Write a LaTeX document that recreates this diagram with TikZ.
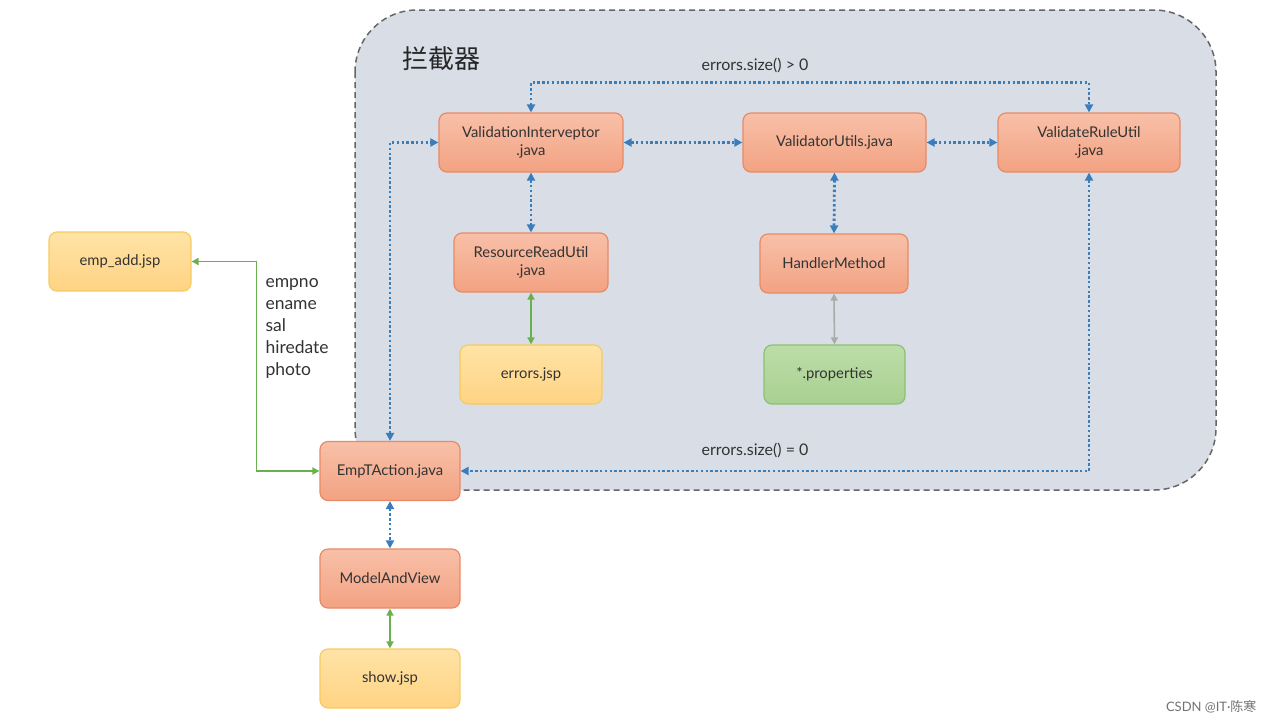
\documentclass[tikz,border=0pt]{standalone}
\usepackage{fontspec}
\setmainfont{Lato}
\newfontfamily\cjk{Noto Sans CJK SC}
\usetikzlibrary{arrows.meta,positioning,calc}
\definecolor{bgbox}{HTML}{D8DDE6}
\definecolor{orTop}{HTML}{F8C0A8}
\definecolor{orBot}{HTML}{F2A282}
\definecolor{orLine}{HTML}{E88A66}
\definecolor{yeTop}{HTML}{FFE3A6}
\definecolor{yeBot}{HTML}{FFD383}
\definecolor{yeLine}{HTML}{F6CB62}
\definecolor{grTop}{HTML}{BCDDA8}
\definecolor{grBot}{HTML}{A9D092}
\definecolor{grLine}{HTML}{8CC070}
\definecolor{blueLn}{HTML}{3A7DBD}
\definecolor{greenLn}{HTML}{6AB04C}
\definecolor{grayLn}{HTML}{AAAAAA}
\definecolor{txt}{HTML}{333333}
\tikzset{
  box/.style={rounded corners=8pt, minimum height=59pt, align=center, line width=1.2pt, font=\fontsize{14.8}{17.5}\selectfont, text=txt},
  orbox/.style={box, draw=orLine, top color=orTop, bottom color=orBot},
  yebox/.style={box, draw=yeLine, top color=yeTop, bottom color=yeBot},
  grbox/.style={box, draw=grLine, top color=grTop, bottom color=grBot},
  bdot/.style={draw=blueLn, line width=2.8pt, dash pattern=on 2.4pt off 2.4pt, {Triangle[length=8pt,width=8pt]}-{Triangle[length=8pt,width=8pt]}, fill=none},
  gln/.style={draw=greenLn, line width=1.6pt, {Triangle[length=7pt,width=7pt]}-{Triangle[length=7pt,width=7pt]}},
  glyln/.style={draw=grayLn, line width=1.6pt, {Triangle[length=7pt,width=7pt]}-{Triangle[length=7pt,width=7pt]}},
  lbl/.style={font=\fontsize{16}{19}\selectfont, text=txt}
}
\begin{document}
\begin{tikzpicture}[x=1pt,y=-1pt]
\useasboundingbox (0,0) rectangle (1273,724);
\fill[white] (0,0) rectangle (1273,724);
% container
\draw[fill=bgbox, draw=black!60, line width=1.5pt, dash pattern=on 6pt off 4pt, rounded corners=62pt] (355,10) rectangle (1216,490);
\node[anchor=center, font=\cjk\fontsize{26}{30}\selectfont, text=black!85] (title) at (441,59) {拦截器};
% nodes
\node[orbox, minimum width=184pt] (vi) at (531,142.5) {ValidationInterveptor\\.java};
\node[orbox, minimum width=183pt] (vu) at (834.5,142.5) {ValidatorUtils.java};
\node[orbox, minimum width=182pt] (vru) at (1089,142.5) {ValidateRuleUtil\\.java};
\node[orbox, minimum width=154pt] (rru) at (531,262.5) {ResourceReadUtil\\.java};
\node[orbox, minimum width=148pt] (hm) at (834,263.5) {HandlerMethod};
\node[yebox, minimum width=142pt] (err) at (531,374.5) {errors.jsp};
\node[grbox, minimum width=141pt] (prop) at (834.5,374.5) {*.properties};
\node[yebox, minimum width=142pt] (add) at (120,261.5) {emp\_add.jsp};
\node[orbox, minimum width=140pt] (emp) at (390,471) {EmpTAction.java};
\node[orbox, minimum width=140pt] (mav) at (390,578.5) {ModelAndView};
\node[yebox, minimum width=140pt] (show) at (390,678.5) {show.jsp};
% connectors
\draw[bdot] (vi.north) -- ++(0,-30) coordinate (tl) -| (vru.north);
\draw[bdot] (vi.east) -- (vu.west);
\draw[bdot] (vu.east) -- (vru.west);
\draw[bdot] (vi.south) -- (rru.north);
\draw[bdot] (vu.south) -- (hm.north);
\draw[gln] (rru.south) -- (err.north);
\draw[glyln] (hm.south) -- (prop.north);
\draw[bdot] (emp.north) |- (vi.west);
\draw[bdot] (vru.south) |- (emp.east);
\draw[gln] (add.east) -| ++(65,0) |- (emp.west);
\draw[bdot] (emp.south) -- (mav.north);
\draw[gln] (mav.south) -- (show.north);
% labels
\node[lbl] (l1) at (755,65) {errors.size() > 0};
\node[lbl] (l2) at (755,450) {errors.size() = 0};
\node[anchor=north west, align=left, font=\fontsize{17.5}{22}\selectfont, text=txt] (params) at (262,275) {empno\\ename\\sal\\hiredate\\photo};
\node[anchor=east, font=\fontsize{13}{15}\selectfont, text=black!55] (wm) at (1260,707) {CSDN @IT\textperiodcentered{\cjk 陈寒}};
\end{tikzpicture}
\end{document}
